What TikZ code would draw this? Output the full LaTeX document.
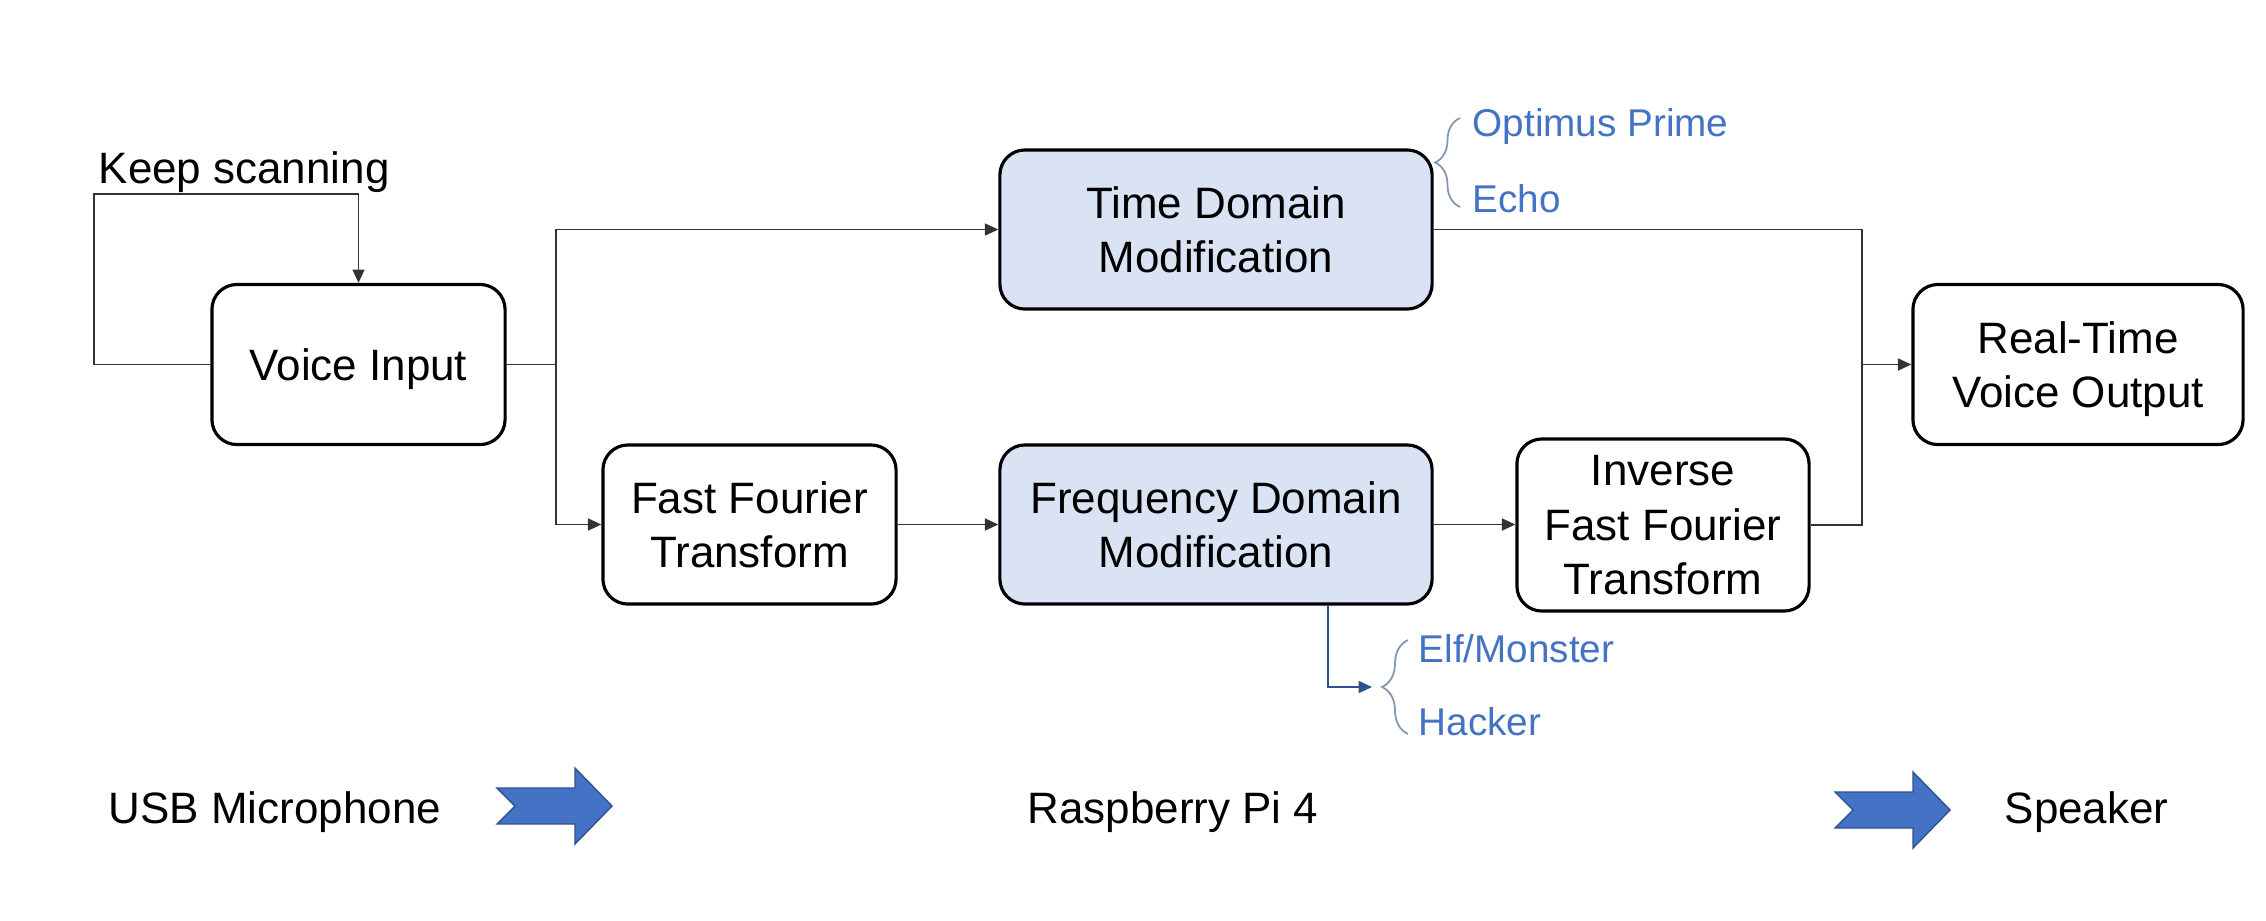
\documentclass[tikz,border=0pt]{standalone}
\usepackage{fontspec}
\setmainfont{Liberation Sans}
\usepackage{tikz}
\usetikzlibrary{arrows.meta,calc,decorations.pathreplacing}
\definecolor{modblue}{HTML}{4472C4}
\definecolor{modfill}{HTML}{DAE3F3}
\definecolor{modedge}{HTML}{2F528F}
\definecolor{bracegray}{HTML}{8497B0}
\newcommand\stagearrow[2]{
  \filldraw[fill=modblue,draw=modedge,line width=0.4pt,shift={(#1,#2)}]
  (0,-18) -- (78,-18) -- (78,-38) -- (115,0) -- (78,38) -- (78,18)
  -- (0,18) -- (18,0) -- cycle;
}

\begin{document}
\begin{tikzpicture}[x=0.01cm, y=-0.01cm,
  block/.style={draw,line width=0.9pt,rounded corners=0.25cm,align=center,
    inner sep=0pt,text depth=0pt,font=\fontsize{12.5}{15.5}\selectfont},
  modblock/.style={block,fill=modfill},
  wire/.style={draw=black!80,line width=0.5pt},
  feed/.style={-{Triangle[length=3.8pt,width=3.4pt]}},
  modlabel/.style={anchor=base west,inner sep=0pt,text=modblue,
    font=\fontsize{11}{13}\selectfont},
  stagelabel/.style={anchor=base west,inner sep=0pt,
    font=\fontsize{12.5}{15}\selectfont},
  modbrace/.style={draw=bracegray,line width=0.5pt,decorate}]
\useasboundingbox (0,0) rectangle (2266,920);

\node[block,minimum width=2.93cm,minimum height=1.6cm] (vin) at (358.5,364.5) {Voice Input};
\node[modblock,minimum width=4.32cm,minimum height=1.59cm] (tdm) at (1216,229.5) {Time Domain\\Modification};
\node[block,minimum width=2.93cm,minimum height=1.59cm] (fft) at (749.5,524.5) {Fast Fourier\\Transform};
\node[modblock,minimum width=4.32cm,minimum height=1.59cm] (fdm) at (1216,524.5) {Frequency Domain\\Modification};
\node[block,minimum width=2.92cm,minimum height=1.72cm] (ifft) at (1663,525) {Inverse\\Fast Fourier\\Transform};
\node[block,minimum width=3.3cm,minimum height=1.6cm] (out) at (2078,364.5) {Real-Time\\Voice Output};
\node[stagelabel] (keep) at (98,183) {Keep scanning};

% loop back into the input
\coordinate (scan) at (94,194);
\draw[wire,feed] (vin.west) -| (scan) -| (vin.north);

\coordinate (split) at (556,364.5);
\coordinate (merge) at (1862,364.5);
\draw[wire] (vin.east) -- (split);
\draw[wire,feed] (split) |- (tdm.west);
\draw[wire,feed] (split) |- (fft.west);
\draw[wire,feed] (fft.east) -- (fft.east -| fdm.west);
\draw[wire,feed] (fdm.east) -- (fdm.east -| ifft.west);
\draw[wire] (tdm.east) -| (merge);
\draw[wire] (ifft.east) -| (merge);
\draw[wire,feed] (merge) -- (out.west);

% voice effects
\coordinate (fxtip) at (1372,687);
\draw[draw=modedge,line width=0.6pt,-{Triangle[length=3.8pt,width=3.4pt]}]
  ($(fdm.south)+(112,0)$) |- (fxtip);
\draw[modbrace,decoration={brace,amplitude=0.25cm}] (1460,207) -- (1460,118);
\draw[modbrace,decoration={brace,amplitude=0.26cm}] (1408,734) -- (1408,640);
\node[modlabel] (optimus) at (1472,136) {Optimus Prime};
\node[modlabel] (echo) at (1472,212) {Echo};
\node[modlabel] (elf) at (1418,662) {Elf/Monster};
\node[modlabel] (hacker) at (1418,735) {Hacker};

% hardware stages
\node[stagelabel] (usb) at (108,823) {USB Microphone};
\node[stagelabel] (pi) at (1027,823) {Raspberry Pi 4};
\node[stagelabel] (spk) at (2004,823) {Speaker};
\stagearrow{497}{806}
\stagearrow{1835}{810}
\end{tikzpicture}
\end{document}
